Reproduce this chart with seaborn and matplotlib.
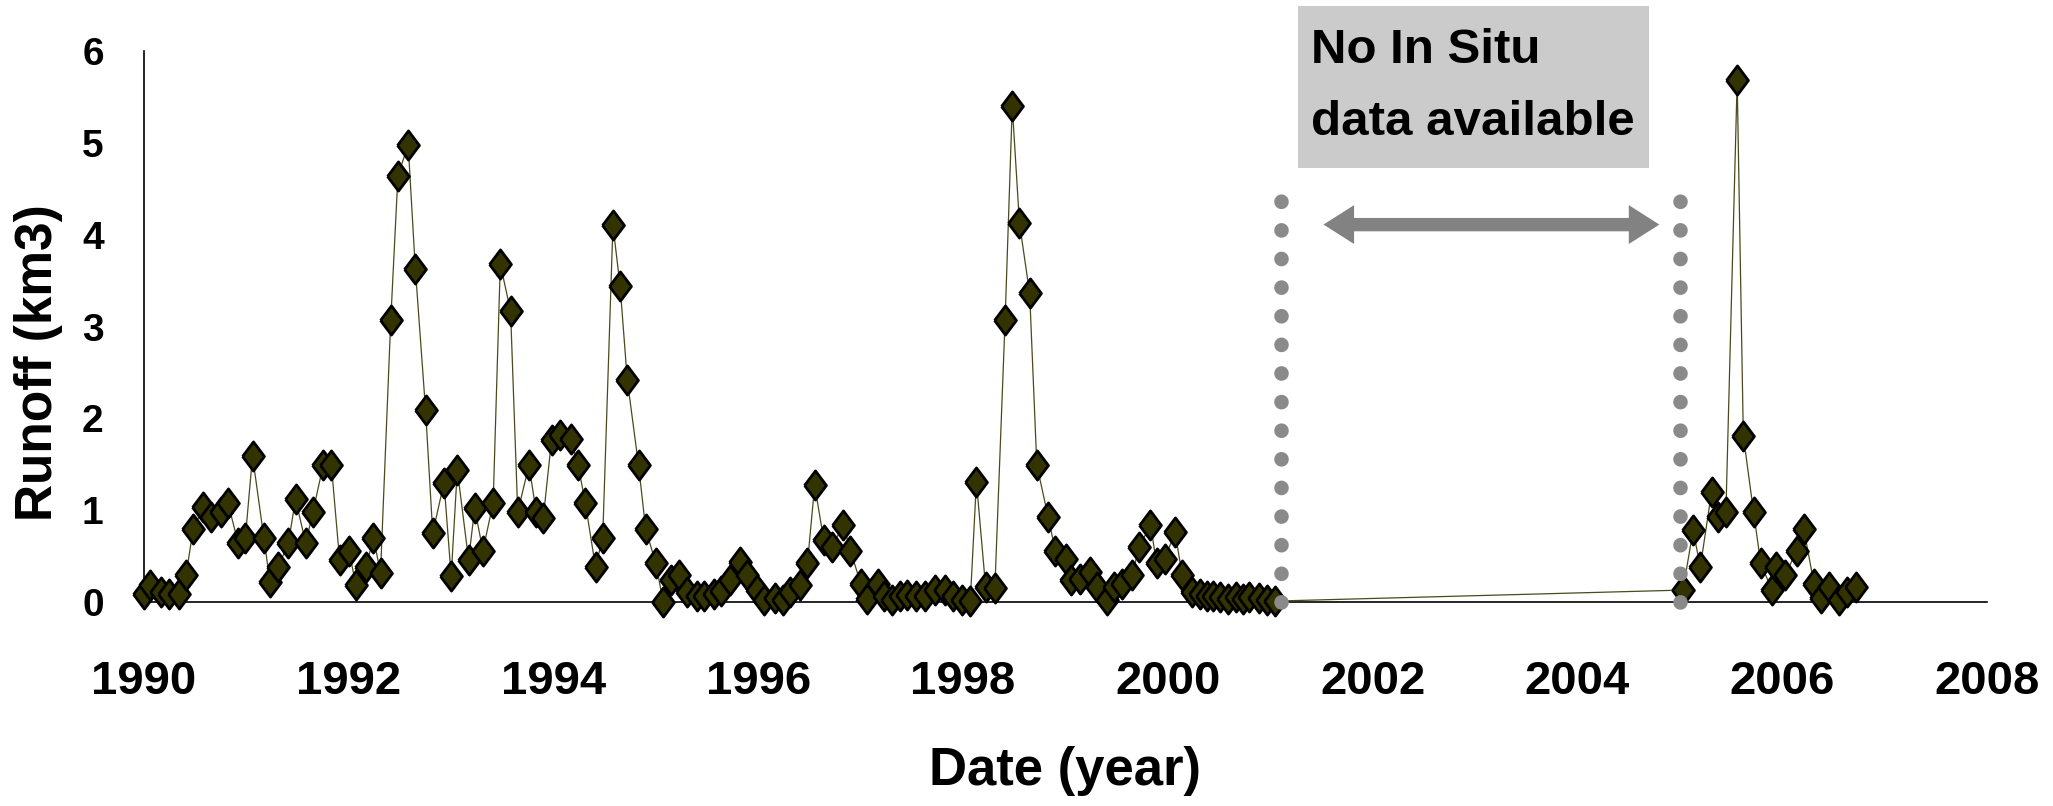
import matplotlib
matplotlib.use("Agg")
import matplotlib.pyplot as plt
from matplotlib.patches import Rectangle
import pandas as pd
import seaborn as sns

# Monthly runoff record (decimal year, km3)
dates = [
    1990.00, 1990.06, 1990.17, 1990.24, 1990.34, 1990.41, 1990.48, 1990.58,
    1990.65, 1990.75, 1990.82, 1990.92, 1990.99, 1991.06, 1991.17, 1991.23,
    1991.31, 1991.41, 1991.48, 1991.58, 1991.65, 1991.75, 1991.83, 1991.91,
    1992.00, 1992.07, 1992.17, 1992.24, 1992.31, 1992.41, 1992.48, 1992.58,
    1992.65, 1992.75, 1992.82, 1992.93, 1993.00, 1993.06, 1993.17, 1993.23,
    1993.31, 1993.41, 1993.48, 1993.58, 1993.65, 1993.76, 1993.83, 1993.90,
    1993.98, 1994.06, 1994.17, 1994.24, 1994.31, 1994.41, 1994.48, 1994.58,
    1994.65, 1994.72, 1994.83, 1994.90, 1995.00, 1995.07,
    1995.15, 1995.23, 1995.30, 1995.40, 1995.47, 1995.57, 1995.64, 1995.72,
    1995.82, 1995.89, 1995.99, 1996.06, 1996.16, 1996.24, 1996.31, 1996.41,
    1996.48, 1996.55, 1996.64, 1996.72, 1996.83, 1996.90, 1997.00, 1997.06,
    1997.17, 1997.23, 1997.31, 1997.38, 1997.45, 1997.54, 1997.63, 1997.73,
    1997.82, 1997.90, 1997.99, 1998.07, 1998.13, 1998.22, 1998.31, 1998.41,
    1998.48, 1998.55, 1998.65, 1998.72, 1998.83, 1998.90, 1999.00, 1999.05,
    1999.14, 1999.24, 1999.31, 1999.41, 1999.47, 1999.55, 1999.65, 1999.72,
    1999.83, 1999.89, 1999.97, 2000.07, 2000.14, 2000.24, 2000.31, 2000.38,
    2000.44, 2000.51, 2000.59, 2000.67, 2000.73, 2000.79, 2000.89, 2000.97,
    2001.05,
    2005.03, 2005.13, 2005.20, 2005.31, 2005.37, 2005.45, 2005.56, 2005.62,
    2005.72, 2005.79, 2005.90, 2005.94, 2006.03, 2006.14, 2006.21, 2006.31,
    2006.38, 2006.46, 2006.55, 2006.63, 2006.72,
]
runoff = [
    0.09, 0.19, 0.11, 0.09, 0.09, 0.29, 0.79, 1.03,
    0.93, 0.98, 1.08, 0.64, 0.70, 1.59, 0.70, 0.22,
    0.38, 0.64, 1.12, 0.64, 0.98, 1.49, 1.49, 0.46,
    0.56, 0.19, 0.38, 0.70, 0.32, 3.07, 4.64, 4.98,
    3.63, 2.09, 0.75, 1.30, 0.28, 1.44, 0.46, 1.02,
    0.56, 1.08, 3.68, 3.17, 0.98, 1.49, 0.98, 0.92,
    1.76, 1.82, 1.77, 1.49, 1.08, 0.38, 0.70, 4.10,
    3.44, 2.42, 1.49, 0.79, 0.42, 0.00,
    0.24, 0.29, 0.11, 0.07, 0.06, 0.09, 0.12, 0.24,
    0.44, 0.29, 0.13, 0.02, 0.04, 0.02, 0.11, 0.19,
    0.42, 1.27, 0.67, 0.60, 0.84, 0.56, 0.20, 0.03,
    0.20, 0.07, 0.02, 0.06, 0.08, 0.07, 0.06, 0.13,
    0.13, 0.07, 0.02, 0.01, 1.31, 0.16, 0.15, 3.07,
    5.40, 4.13, 3.36, 1.49, 0.93, 0.56, 0.47, 0.24,
    0.25, 0.33, 0.16, 0.02, 0.16, 0.20, 0.29, 0.60,
    0.84, 0.42, 0.47, 0.76, 0.29, 0.11, 0.09, 0.06,
    0.07, 0.05, 0.03, 0.05, 0.03, 0.05, 0.04, 0.02,
    0.01,
    0.13, 0.78, 0.38, 1.20, 0.93, 0.98, 5.68, 1.81,
    0.98, 0.42, 0.13, 0.38, 0.29, 0.56, 0.80, 0.20,
    0.04, 0.16, 0.02, 0.11, 0.16,
]

# Period without in-situ measurements
gap_bounds = [2001.1, 2005.0]
arrow_span = [2001.52, 2004.80]
arrow_level = 4.11
gap_marker_top = 4.40

year_ticks = list(range(1990, 2009, 2))
runoff_ticks = [0, 1, 2, 3, 4, 5, 6]
note_lines = ["No In Situ", "data available"]
x_title = "Date (year)"
y_title = "Runoff (km3)"

sns.set_style("white")
font = ["Liberation Sans", "DejaVu Sans"]
plt.rcParams["font.family"] = font
plt.rcParams["font.weight"] = "bold"
plt.rcParams["text.color"] = "black"

W, H = 2053, 806
fig = plt.figure(figsize=(W / 100, H / 100), dpi=100, facecolor="white")
ax = fig.add_axes([144 / W, 1 - 602 / H, (1987 - 144) / W, (602 - 51) / H])
ax.set_ylim(0, 6)

df = pd.DataFrame({"date": dates, "runoff": runoff})
diamond = [(-0.75, 0), (0, 1), (0.75, 0), (0, -1), (-0.75, 0)]
sns.lineplot(
    data=df, x="date", y="runoff", ax=ax, estimator=None, sort=False,
    color="#4a4a1c", linewidth=0.9,
    marker=diamond, markersize=21, markerfacecolor="#333300",
    markeredgecolor="black", markeredgewidth=2.0,
    clip_on=False, zorder=3,
)

# dotted boundaries of the data gap (round dots, ~28 px apart)
dot_lw = 10.5
for b in gap_bounds:
    ax.axvline(b, ymin=0, ymax=gap_marker_top / 6, color="#8a8a8a",
               linewidth=dot_lw, linestyle=(0, (0.01, 20.5 / dot_lw)),
               dash_capstyle="round", zorder=4, clip_on=False)

# double-headed arrow spanning the gap: two overlapping single-headed arrows
arrow_style = "simple,head_length=22,head_width=28,tail_width=9.5"
for start, end in [(arrow_span[0], arrow_span[1]), (arrow_span[1], arrow_span[0])]:
    ax.annotate(
        "", xy=(end, arrow_level), xytext=(start, arrow_level),
        arrowprops=dict(arrowstyle=arrow_style, mutation_scale=1,
                        color="#828282", lw=0, shrinkA=20, shrinkB=0),
        zorder=4,
    )

ax.set_xlim(1990, 2008)
ax.set_ylim(0, 6)
ax.set_xticks(year_ticks)
ax.set_xticklabels([str(y) for y in year_ticks])
ax.set_yticks(runoff_ticks)
ax.set_yticklabels([str(v) for v in runoff_ticks])
ax.set_xlabel("")
ax.set_ylabel("")

for side in ("top", "right"):
    ax.spines[side].set_visible(False)
for side in ("left", "bottom"):
    ax.spines[side].set_color("black")
    ax.spines[side].set_linewidth(1.2)

ax.tick_params(axis="x", direction="out", length=11.5, width=1, color="#555555",
               pad=30, labelsize=34, labelcolor="black")
ax.tick_params(axis="y", direction="out", length=10, width=1, color="#555555",
               pad=19, labelsize=28, labelcolor="black")
for lab in ax.get_xticklabels() + ax.get_yticklabels():
    lab.set_fontweight("bold")

fig.text(38.6 / W, 1 - 363 / H, y_title, rotation=90, ha="center", va="center",
         fontsize=37, weight="bold", color="black")
fig.text(1065 / W, 1 - 785 / H, x_title, ha="center", va="baseline",
         fontsize=38, weight="bold", color="black")

# grey note box above the gap
fig.patches.append(Rectangle((1298 / W, 1 - 168 / H), 351 / W, 162 / H,
                             transform=fig.transFigure, facecolor="#cbcbcb",
                             edgecolor="none", zorder=1))
fig.text(1311 / W, 1 - 63 / H, note_lines[0], ha="left", va="baseline",
         fontsize=35.5, weight="bold", color="black", zorder=2)
fig.text(1311 / W, 1 - 135 / H, note_lines[1], ha="left", va="baseline",
         fontsize=35.5, weight="bold", color="black", zorder=2)

fig.savefig("out.png", dpi=100, facecolor="white")
